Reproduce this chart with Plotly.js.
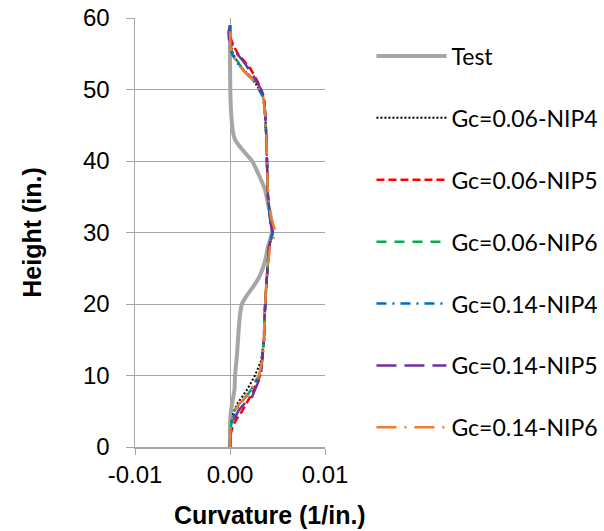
<!DOCTYPE html>
<html>
<head>
<meta charset="utf-8">
<script src="https://cdn.plot.ly/plotly-3.0.1.min.js"></script>
<style>html,body{margin:0;padding:0;background:#fff;}</style>
</head>
<body>
<div id="chart" style="width:604px;height:531px;"></div>
<script>
// Test curve
const testHeight = [0,2,4,6,8,10,13,16,18.5,20,21,22,23,24,26,28,30,32,34,36,38,40,41,42,43,44,46,48,50,54,59];
const testCurv = [0,0,0.00003,0.00021,0.00047,0.00053,0.00074,0.00089,0.00105,0.00126,0.00168,0.00221,0.00274,0.00316,0.00368,0.00400,0.00442,0.00432,0.00400,0.00368,0.00305,0.00232,0.00168,0.00105,0.00053,0.00032,0.00016,0.00007,0.00003,0,0];

// Model heights (integration points)
const modelHeight = [0,1,2,3,4,5,6,7,8,9,10,12,15,18,20,22,25,28,30,32,35,38,40,43,45,47,49,50,51,52,53,54,55,56,57,58,59];

const gc006nip4 = [0,0,0.00005,0.00011,0.00021,0.00042,0.00074,0.00126,0.00179,0.00221,0.00263,0.00326,0.00358,0.00363,0.00368,0.00379,0.00395,0.00411,0.00447,0.00421,0.00400,0.00389,0.00389,0.00384,0.00379,0.00368,0.00347,0.00305,0.00263,0.00200,0.00126,0.00074,0.00032,0.00011,0,0,0];
const gc006nip5 = [0,0,0.00011,0.00032,0.00074,0.00126,0.00168,0.00211,0.00253,0.00284,0.00316,0.00337,0.00358,0.00363,0.00368,0.00379,0.00395,0.00411,0.00447,0.00421,0.00400,0.00389,0.00389,0.00384,0.00379,0.00368,0.00358,0.00326,0.00295,0.00253,0.00211,0.00147,0.00084,0.00042,0.00011,0,0];
const gc006nip6 = [0,0,0.00005,0.00011,0.00021,0.00042,0.00095,0.00168,0.00221,0.00263,0.00305,0.00337,0.00358,0.00363,0.00368,0.00379,0.00395,0.00411,0.00453,0.00421,0.00400,0.00389,0.00389,0.00384,0.00379,0.00368,0.00347,0.00305,0.00263,0.00200,0.00126,0.00074,0.00021,0.00005,0,-0.00005,0];
const gc014nip4 = [0,0,0.00005,0.00011,0.00032,0.00053,0.00105,0.00168,0.00221,0.00263,0.00305,0.00337,0.00358,0.00363,0.00368,0.00379,0.00395,0.00411,0.00447,0.00421,0.00400,0.00389,0.00389,0.00384,0.00379,0.00368,0.00347,0.00305,0.00263,0.00189,0.00116,0.00063,0.00021,0.00005,0,0,0];
const gc014nip5 = [0,0,0.00005,0.00021,0.00053,0.00084,0.00147,0.00232,0.00263,0.00295,0.00326,0.00337,0.00358,0.00363,0.00368,0.00379,0.00395,0.00411,0.00447,0.00421,0.00400,0.00389,0.00389,0.00384,0.00379,0.00368,0.00358,0.00326,0.00284,0.00242,0.00189,0.00137,0.00074,0.00032,-0.00011,-0.00016,0];
const gc014nip6 = [0,0,0,0.00005,0.00021,0.00042,0.00095,0.00168,0.00221,0.00263,0.00305,0.00337,0.00358,0.00363,0.00368,0.00379,0.00395,0.00421,0.00484,0.00432,0.00400,0.00389,0.00389,0.00384,0.00379,0.00368,0.00347,0.00305,0.00263,0.00189,0.00116,0.00063,0.00021,0.00005,0,0,0];

const seriesNames = ['Test','Gc=0.06-NIP4','Gc=0.06-NIP5','Gc=0.06-NIP6','Gc=0.14-NIP4','Gc=0.14-NIP5','Gc=0.14-NIP6'];
const xTickVals = [-0.01, 0, 0.01];
const xTickText = ['-0.01', '0.00', '0.01'];
const yTickVals = [0,10,20,30,40,50,60];

const modelSeries = [gc006nip4, gc006nip5, gc006nip6, gc014nip4, gc014nip5, gc014nip6];
const styles = [
  {color:'#000000', width:2, dash:'2px,2px'},
  {color:'#FF0000', width:2.5, dash:'8px,4px'},
  {color:'#00B050', width:2.5, dash:'10px,8px'},
  {color:'#0070C0', width:2.5, dash:'10px,6px,2px,6px'},
  {color:'#7030A0', width:2.5, dash:'20px,8px'},
  {color:'#ED7D31', width:2.5, dash:'20px,8px,2px,8px'}
];

const traces = [{
  x: testCurv, y: testHeight, name: seriesNames[0], type:'scatter', mode:'lines',
  line:{color:'#A6A6A6', width:4, shape:'spline', smoothing:0.6}, legendgroup:'g0'
}];
modelSeries.forEach((arr, i) => {
  traces.push({
    x: arr, y: modelHeight, name: seriesNames[i+1], type:'scatter', mode:'lines',
    line: styles[i], legendgroup:'g'+(i+1)
  });
});

const layout = {
  width:604, height:531,
  margin:{l:135, r:279, t:17.5, b:84},
  paper_bgcolor:'#fff', plot_bgcolor:'#fff',
  font:{family:'Liberation Sans, Arial, sans-serif', color:'#000'},
  showlegend:true,
  legend:{
    xref:'container', yref:'container', x:0.615, y:0.935, xanchor:'left', yanchor:'top',
    font:{family:'Lato, Liberation Sans, sans-serif', size:23, color:'#000'},
    tracegroupgap:29, itemwidth:70, bgcolor:'rgba(0,0,0,0)', maxheight:531
  },
  xaxis:{
    range:[-0.01, 0.01], tickvals:xTickVals, ticktext:xTickText,
    showgrid:true, gridcolor:'#A6A6A6', gridwidth:1,
    showline:true, linecolor:'#A6A6A6', linewidth:1.5,
    ticks:'outside', ticklen:6, tickcolor:'#A6A6A6',
    tickfont:{size:24, family:'Liberation Sans, Arial, sans-serif'},
    zeroline:false, fixedrange:true
  },
  yaxis:{
    range:[0, 60], tickvals:yTickVals,
    showgrid:true, gridcolor:'#A6A6A6', gridwidth:1,
    showline:true, linecolor:'#A6A6A6', linewidth:1.5,
    ticks:'outside', ticklen:8, tickcolor:'#A6A6A6', ticklabelstandoff:11,
    tickfont:{size:24, family:'Liberation Sans, Arial, sans-serif'},
    zeroline:false, fixedrange:true,
    title:{text:'<b>Height (in.)</b>', font:{size:25, family:'Liberation Sans, Arial, sans-serif'}, standoff:34}
  },
  annotations:[{
    text:'<b>Curvature (1/in.)</b>', xref:'paper', yref:'paper',
    x:0.71, y:-0.158, xanchor:'center', yanchor:'middle', showarrow:false,
    font:{size:25, family:'Liberation Sans, Arial, sans-serif', color:'#000'}
  }]
};

Plotly.newPlot('chart', traces, layout, {staticPlot:true, displayModeBar:false});
</script>
</body>
</html>
